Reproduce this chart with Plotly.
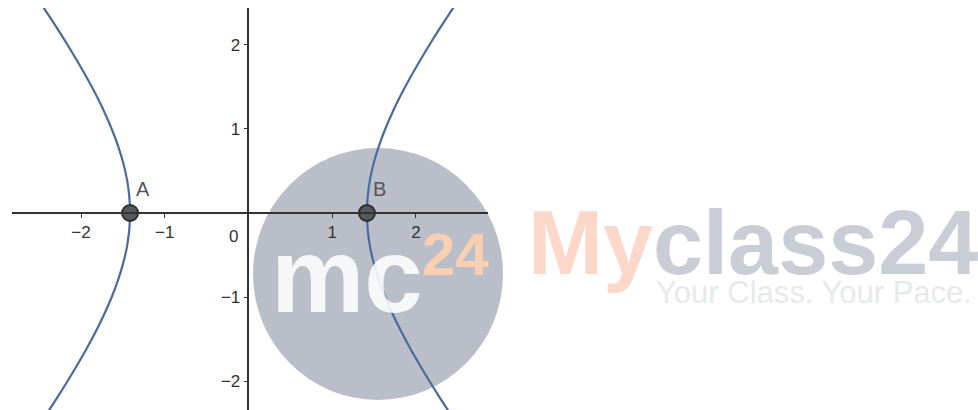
import plotly.graph_objects as go

# ---- data ----
branch_y = [-2.4, -2.2, -2.0, -1.8, -1.6, -1.4, -1.2, -1.0, -0.8, -0.6, -0.4, -0.2, 0.0,
            0.2, 0.4, 0.6, 0.8, 1.0, 1.2, 1.4, 1.6, 1.8, 2.0, 2.2, 2.4, 2.5]
right_x = [2.417, 2.286, 2.160, 2.040, 1.925, 1.818, 1.720, 1.633, 1.558, 1.497, 1.451, 1.424, 1.414,
           1.424, 1.451, 1.497, 1.558, 1.633, 1.720, 1.818, 1.925, 2.040, 2.160, 2.286, 2.417, 2.483]
left_x = [-2.417, -2.286, -2.160, -2.040, -1.925, -1.818, -1.720, -1.633, -1.558, -1.497, -1.451, -1.424, -1.414,
          -1.424, -1.451, -1.497, -1.558, -1.633, -1.720, -1.818, -1.925, -2.040, -2.160, -2.286, -2.417, -2.483]
point_names = ["A", "B"]
point_x = [-1.414, 1.414]
point_y = [0.0, 0.0]
tick_vals = [-2, -1, 1, 2]

X_RANGE = [-2.824, 2.860]
Y_RANGE = [-2.345, 2.44]

W, H = 978, 410
ML, MR, MT, MB = 12, 490, 8, 0
PW, PH = W - ML - MR, H - MT - MB


def px(xp):
    return (xp - ML) / PW


def py(yp):
    return (H - MB - yp) / PH


curve_color = "#4a6b9e"

fig = go.Figure()
for bx in (left_x, right_x):
    fig.add_trace(go.Scatter(x=bx, y=branch_y, mode="lines", line=dict(color=curve_color, width=2.2, shape="spline"),
                             hoverinfo="skip", showlegend=False))

fig.add_trace(go.Scatter(x=point_x, y=point_y, mode="markers", hoverinfo="skip",
                         marker=dict(size=16, color="#55585e", line=dict(color="#2e2e2e", width=2)),
                         showlegend=False, cliponaxis=False))
for name, x0, y0 in zip(point_names, point_x, point_y):
    fig.add_annotation(x=x0, y=y0, xref="x", yref="y", text=name, showarrow=False,
                       xanchor="left", yanchor="bottom", xshift=4, yshift=11,
                       font=dict(family="Liberation Sans", size=20, color="#555555"))

ypos_x_axis = (0 - Y_RANGE[0]) / (Y_RANGE[1] - Y_RANGE[0])
xpos_y_axis = (0 - X_RANGE[0]) / (X_RANGE[1] - X_RANGE[0])

axis_font = dict(family="Liberation Sans", size=17, color="#333333")
fig.update_layout(
    width=W, height=H,
    margin=dict(l=ML, r=MR, t=MT, b=MB, pad=0, autoexpand=False),
    paper_bgcolor="white", plot_bgcolor="white",
    xaxis=dict(range=X_RANGE, anchor="free", position=ypos_x_axis, showgrid=False, zeroline=False,
               showline=True, linecolor="#333333", linewidth=1.5, ticks="outside", ticklen=4,
               tickcolor="#333333", tickvals=tick_vals, tickfont=axis_font, automargin=False),
    yaxis=dict(range=Y_RANGE, anchor="free", position=xpos_y_axis, showgrid=False, zeroline=False,
               showline=True, linecolor="#333333", linewidth=1.5, ticks="outside", ticklen=4,
               tickcolor="#333333", tickvals=tick_vals, tickfont=axis_font, automargin=False),
)

fig.add_annotation(x=0, y=0, xref="x", yref="y", text="0", showarrow=False, xanchor="right", yanchor="top",
                   xshift=-8, yshift=-12, font=axis_font)

# ---- watermark ----
fig.add_shape(type="circle", xref="paper", yref="paper", x0=px(253), x1=px(503), y0=py(400), y1=py(148),
              fillcolor="rgba(158,165,180,0.72)", line=dict(width=0), layer="below")
fig.add_annotation(xref="paper", yref="paper", x=px(347), y=py(275), text="<b>mc</b>", showarrow=False,
                   xanchor="center", yanchor="middle", opacity=0.88,
                   font=dict(family="Liberation Sans", size=105, color="white"))
fig.add_annotation(xref="paper", yref="paper", x=px(455), y=py(254), text="<b>24</b>", showarrow=False,
                   xanchor="center", yanchor="middle",
                   font=dict(family="Liberation Sans", size=60, color="#f8cfb0"))
fig.add_annotation(xref="paper", yref="paper", x=px(526), y=py(243), showarrow=False,
                   text="<b><span style='color:#fcd8ca'>My</span>class24</b>",
                   xanchor="left", yanchor="middle",
                   font=dict(family="Liberation Sans", size=90, color="#c9cdd6"))
fig.add_annotation(xref="paper", yref="paper", x=px(654), y=py(292), showarrow=False,
                   text="Your Class. Your Pace.", xanchor="left", yanchor="middle",
                   font=dict(family="Liberation Sans", size=31, color="#e8e9ed"))

fig.write_html("out.html", config={"displayModeBar": False},
               post_script="document.body.style.margin='0';")
